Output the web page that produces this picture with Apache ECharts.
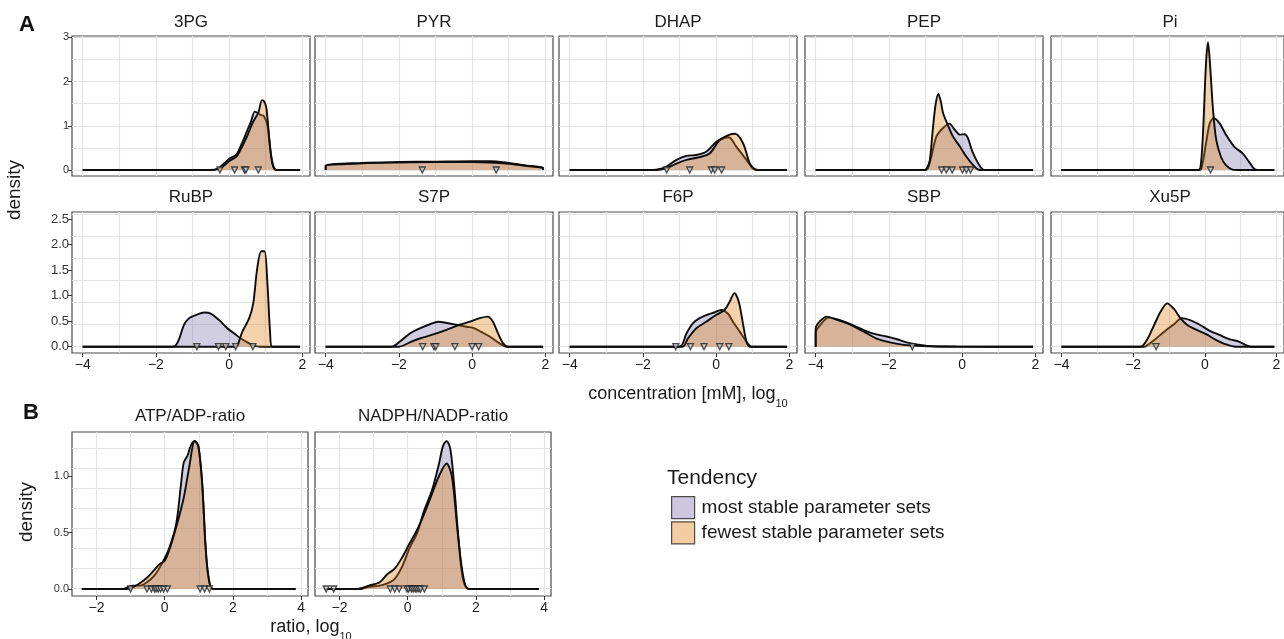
<!DOCTYPE html>
<html><head><meta charset="utf-8">
<script src="https://cdn.jsdelivr.net/npm/echarts@6/dist/echarts.min.js"></script>
<style>html,body{margin:0;padding:0;background:#fff}#c{width:1284px;height:639px}</style>
</head><body><div id="c"></div><script>
// ---------------- DATA ----------------
const seriesNames = ['most stable parameter sets', 'fewest stable parameter sets'];
const panelNamesA = ['3PG','PYR','DHAP','PEP','Pi','RuBP','S7P','F6P','SBP','Xu5P'];
const panelNamesB = ['ATP/ADP-ratio','NADPH/NADP-ratio'];
const ticksA_x = [-4,-2,0,2];
const ticksB_x = [-2,0,2,4];
const ticksTop_y = [0,1,2,3];
const ticksBottom_y = [0,0.5,1,1.5,2,2.5];
const ticksB_y = [0,0.5,1];

const most_3PG = [[-4,0],[-0.5,0],[-0.3,0.03],[-0.2,0.1],[0,0.25],[0.2,0.35],[0.35,0.6],[0.5,0.9],[0.6,1.1],[0.7,1.32],[0.76,1.3],[0.85,1.25],[0.95,1.22],[1.05,1.0],[1.12,0.5],[1.2,0.12],[1.3,0],[1.94,0]];
const fewest_3PG = [[-4,0],[-0.5,0],[-0.3,0.02],[-0.2,0.06],[0,0.2],[0.2,0.3],[0.35,0.52],[0.5,0.78],[0.65,1.08],[0.8,1.3],[0.9,1.58],[0.96,1.55],[1.02,1.4],[1.1,0.7],[1.18,0.15],[1.28,0],[1.94,0]];
const rug_3PG = [-0.25,0.15,0.42,0.46,0.8];

const most_PYR = [[-4,0],[-4,0.1],[-3,0.16],[-2,0.18],[-1,0.19],[0,0.2],[0.5,0.2],[1,0.16],[1.5,0.1],[1.94,0.05],[1.94,0]];
const fewest_PYR = [[-4,0],[-4,0.09],[-3,0.15],[-2,0.17],[-1,0.18],[0,0.18],[0.5,0.17],[1,0.14],[1.5,0.09],[1.94,0.04],[1.94,0]];
const rug_PYR = [-1.36,0.66];

const most_DHAP = [[-4,0],[-1.75,0],[-1.5,0.03],[-1.35,0.08],[-1.08,0.23],[-0.81,0.32],[-0.54,0.34],[-0.26,0.42],[0.01,0.64],[0.24,0.73],[0.35,0.74],[0.55,0.53],[0.83,0.23],[1.0,0.04],[1.15,0],[1.94,0]];
const fewest_DHAP = [[-4,0],[-1.6,0],[-1.35,0.04],[-1.1,0.14],[-0.81,0.23],[-0.45,0.29],[-0.17,0.38],[0.1,0.68],[0.37,0.8],[0.52,0.82],[0.74,0.6],[0.92,0.15],[1.05,0.02],[1.15,0],[1.94,0]];
const rug_DHAP = [-1.35,-0.72,-0.13,-0.04,0.15];

const most_PEP = [[-4,0],[-1.0,0],[-0.93,0.04],[-0.84,0.3],[-0.7,0.76],[-0.52,0.95],[-0.35,1.05],[-0.2,0.91],[-0.06,0.8],[0.07,0.81],[0.16,0.72],[0.28,0.42],[0.44,0.15],[0.57,0.01],[0.65,0],[1.94,0]];
const fewest_PEP = [[-4,0],[-1.02,0],[-0.94,0.08],[-0.88,0.23],[-0.79,1.0],[-0.72,1.5],[-0.65,1.72],[-0.58,1.55],[-0.52,1.29],[-0.38,1.0],[-0.25,0.76],[-0.06,0.53],[0.12,0.3],[0.3,0.11],[0.44,0.01],[0.55,0],[1.94,0]];
const rug_PEP = [-0.56,-0.43,-0.27,0.01,0.12,0.23];

const most_Pi = [[-4,0],[-0.15,0],[-0.09,0.04],[0.05,0.68],[0.14,1.06],[0.25,1.17],[0.41,1.06],[0.59,0.8],[0.82,0.53],[1.05,0.38],[1.23,0.19],[1.36,0.04],[1.45,0],[1.94,0]];
const fewest_Pi = [[-4,0],[-0.2,0],[-0.12,0.06],[-0.05,0.83],[0.03,2.35],[0.09,2.89],[0.15,2.35],[0.23,1.36],[0.32,0.68],[0.45,0.3],[0.59,0.11],[0.77,0.01],[0.9,0],[1.94,0]];
const rug_Pi = [0.16];

const most_RuBP = [[-4,0],[-1.55,0],[-1.45,0.03],[-1.36,0.16],[-1.23,0.43],[-1.09,0.56],[-0.91,0.62],[-0.68,0.67],[-0.5,0.65],[-0.27,0.52],[-0.05,0.36],[0.14,0.26],[0.32,0.16],[0.5,0.085],[0.68,0.02],[0.86,0],[1.94,0]];
const fewest_RuBP = [[-4,0],[0.15,0],[0.23,0.03],[0.36,0.29],[0.55,0.56],[0.66,0.85],[0.77,1.54],[0.88,1.87],[0.97,1.87],[1.05,1.21],[1.12,0.29],[1.18,0],[1.94,0]];
const rug_RuBP = [-0.88,-0.29,-0.09,0.18,0.65];

const most_S7P = [[-4,0],[-2.2,0],[-1.97,0.1],[-1.7,0.26],[-1.43,0.36],[-1.15,0.44],[-0.93,0.49],[-0.65,0.46],[-0.43,0.43],[-0.15,0.39],[0.03,0.37],[0.25,0.29],[0.48,0.2],[0.75,0.065],[0.94,0],[1.94,0]];
const fewest_S7P = [[-4,0],[-2.0,0],[-1.7,0.085],[-1.43,0.16],[-1.06,0.24],[-0.7,0.33],[-0.34,0.43],[-0.06,0.49],[0.21,0.56],[0.43,0.59],[0.57,0.49],[0.71,0.26],[0.85,0.065],[0.98,0],[1.94,0]];
const rug_S7P = [-1.35,-1.04,-0.99,-0.47,0.0,0.18];

const most_F6P = [[-4,0],[-1.0,0],[-0.81,0.26],[-0.63,0.46],[-0.45,0.56],[-0.23,0.63],[-0.05,0.67],[0.14,0.72],[0.32,0.65],[0.46,0.49],[0.65,0.29],[0.83,0.1],[0.96,0],[1.94,0]];
const fewest_F6P = [[-4,0],[-0.92,0],[-0.77,0.16],[-0.54,0.36],[-0.27,0.49],[0.0,0.62],[0.23,0.72],[0.37,0.88],[0.5,1.05],[0.62,0.88],[0.74,0.43],[0.83,0.1],[0.92,0],[1.94,0]];
const rug_F6P = [-1.1,-0.7,-0.33,0.1,0.35];

const most_SBP = [[-4,0],[-4,0.28],[-3.88,0.42],[-3.65,0.57],[-3.43,0.54],[-3.15,0.47],[-2.88,0.39],[-2.6,0.3],[-2.34,0.24],[-2.06,0.2],[-1.8,0.15],[-1.52,0.085],[-1.25,0.046],[-0.88,0.015],[-0.15,0.005],[0.75,0],[1.94,0]];
const fewest_SBP = [[-4,0],[-4,0.36],[-3.88,0.5],[-3.7,0.59],[-3.43,0.53],[-3.15,0.46],[-2.88,0.37],[-2.6,0.26],[-2.34,0.16],[-2.06,0.1],[-1.8,0.06],[-1.52,0.03],[-1.06,0.01],[-0.6,0],[1.94,0]];
const rug_SBP = [-1.36];

const most_Xu5P = [[-4,0],[-1.7,0],[-1.64,0.01],[-1.41,0.13],[-1.14,0.29],[-0.86,0.44],[-0.64,0.56],[-0.41,0.52],[-0.14,0.43],[0.14,0.31],[0.41,0.23],[0.68,0.15],[0.95,0.1],[1.18,0.02],[1.32,0],[1.94,0]];
const fewest_Xu5P = [[-4,0],[-1.8,0],[-1.73,0.02],[-1.59,0.16],[-1.41,0.43],[-1.23,0.69],[-1.05,0.85],[-0.86,0.74],[-0.68,0.56],[-0.5,0.43],[-0.23,0.33],[0.05,0.24],[0.32,0.13],[0.59,0.046],[0.86,0],[1.94,0]];
const rug_Xu5P = [-1.36];

const most_ATP = [[-2.43,0],[-1.2,0],[-1.16,0.005],[-0.95,0.03],[-0.73,0.03],[-0.52,0.06],[-0.3,0.12],[-0.09,0.22],[0.13,0.36],[0.34,0.58],[0.48,0.93],[0.56,1.12],[0.67,1.18],[0.77,1.27],[0.88,1.31],[0.99,1.26],[1.1,0.93],[1.2,0.37],[1.28,0.11],[1.42,0],[3.84,0]];
const fewest_ATP = [[-2.43,0],[-1.1,0],[-0.9,0.02],[-0.73,0.05],[-0.52,0.1],[-0.3,0.17],[-0.15,0.22],[0.0,0.25],[0.13,0.34],[0.34,0.55],[0.56,0.81],[0.72,1.08],[0.88,1.31],[0.99,1.26],[1.1,0.93],[1.2,0.37],[1.29,0.1],[1.42,0],[3.84,0]];
const rug_ATP = [-1.0,-0.52,-0.39,-0.3,-0.25,-0.19,-0.12,-0.03,0.08,1.04,1.17,1.31];

const most_NADPH = [[-2.43,0],[-1.4,0],[-1.14,0.02],[-0.82,0.03],[-0.6,0.05],[-0.38,0.09],[-0.16,0.2],[0.05,0.36],[0.27,0.49],[0.49,0.7],[0.71,0.87],[0.92,1.11],[1.03,1.26],[1.14,1.31],[1.25,1.24],[1.36,0.93],[1.52,0.34],[1.63,0.08],[1.79,0],[3.84,0]];
const fewest_NADPH = [[-2.43,0],[-1.5,0],[-1.14,0.03],[-0.82,0.06],[-0.6,0.13],[-0.38,0.18],[-0.16,0.28],[0.05,0.4],[0.27,0.52],[0.49,0.67],[0.71,0.84],[0.92,1.0],[1.14,1.11],[1.3,0.99],[1.47,0.49],[1.63,0.11],[1.79,0],[3.84,0]];
const rug_NADPH = [-2.39,-2.17,-0.51,-0.38,-0.25,-0.02,0.03,0.11,0.16,0.22,0.27,0.33,0.38,0.49];

// ---------------- LAYOUT / STYLE ----------------
const FONT = '"Liberation Sans", Arial, Helvetica, sans-serif';
const PURPLE = 'rgba(128,115,172,0.5)';
const ORANGE = 'rgba(224,130,20,0.5)';
const GRIDCOL = '#e4e4e4';
const minus = v => (v < 0 ? '\u2212' + Math.abs(v) : String(v));

const dataA = [
  [most_3PG, fewest_3PG, rug_3PG], [most_PYR, fewest_PYR, rug_PYR], [most_DHAP, fewest_DHAP, rug_DHAP],
  [most_PEP, fewest_PEP, rug_PEP], [most_Pi, fewest_Pi, rug_Pi], [most_RuBP, fewest_RuBP, rug_RuBP],
  [most_S7P, fewest_S7P, rug_S7P], [most_F6P, fewest_F6P, rug_F6P], [most_SBP, fewest_SBP, rug_SBP],
  [most_Xu5P, fewest_Xu5P, rug_Xu5P]
];
const dataB = [[most_ATP, fewest_ATP, rug_ATP], [most_NADPH, fewest_NADPH, rug_NADPH]];

const colLeftA = [72, 315, 559, 805, 1051];
const grids = [], xAxes = [], yAxes = [], series = [], graphics = [];

function text(x, y, str, size, opts) {
  graphics.push(Object.assign({
    type: 'text', x: x, y: y, silent: true,
    style: Object.assign({ text: str, fontSize: size, fontFamily: FONT, fill: '#1a1a1a', align: 'center', verticalAlign: 'middle' }, (opts && opts.style) || {})
  }, (opts && opts.el) || {}));
}

function addPanel(p) {
  const gi = grids.length;
  grids.push({ left: p.left, top: p.top, width: p.width, height: p.height, show: true,
    borderColor: '#4a4a4a', borderWidth: 1.2, backgroundColor: '#fff', containLabel: false });
  xAxes.push({ type: 'value', gridIndex: gi, position: 'top', min: p.xmin, max: p.xmax,
    axisLine: { show: false, onZero: false }, axisTick: { show: false, customValues: p.xgrid }, axisLabel: { show: false },
    splitLine: { show: true, lineStyle: { color: GRIDCOL, width: 1.2 } } });
  const xl = xAxes.length;
  xAxes.push({ type: 'value', gridIndex: gi, position: 'bottom', min: p.xmin, max: p.xmax,
    axisLine: { show: false, onZero: false },
    axisTick: { show: p.showX, customValues: p.xticks, length: 4, lineStyle: { color: '#333', width: 1 } },
    axisLabel: { show: p.showX, customValues: p.xticks, formatter: minus, fontSize: 14, color: '#1a1a1a', fontFamily: FONT, margin: 5 },
    splitLine: { show: false } });
  yAxes.push({ type: 'value', gridIndex: gi, position: 'right', min: p.gymin, max: p.gymax,
    axisLine: { show: false, onZero: false }, axisTick: { show: false, customValues: p.ygrid }, axisLabel: { show: false },
    splitLine: { show: true, lineStyle: { color: GRIDCOL, width: 1.2 } } });
  const yl = yAxes.length;
  yAxes.push({ type: 'value', gridIndex: gi, position: 'left', min: p.ymin, max: p.ymax,
    axisLine: { show: false, onZero: false },
    axisTick: { show: p.showY, customValues: p.yticks, length: 4, lineStyle: { color: '#333', width: 1 } },
    axisLabel: { show: p.showY, customValues: p.yticks, formatter: p.yfmt, fontSize: p.yFont, color: '#333', fontFamily: FONT, margin: 3 },
    splitLine: { show: false } });
  const d = p.data;
  series.push({ type: 'line', name: seriesNames[0], xAxisIndex: xl, yAxisIndex: yl, data: d[0],
    symbol: 'none', smooth: 0.3, silent: true, z: 2,
    lineStyle: { color: '#0d0d0d', width: 1.9 }, areaStyle: { color: PURPLE } });
  series.push({ type: 'line', name: seriesNames[1], xAxisIndex: xl, yAxisIndex: yl, data: d[1],
    symbol: 'none', smooth: 0.3, silent: true, z: 3,
    lineStyle: { color: '#0d0d0d', width: 1.9 }, areaStyle: { color: ORANGE } });
  series.push({ type: 'scatter', xAxisIndex: xl, yAxisIndex: yl, data: d[2].map(v => [v, 0]),
    symbol: 'triangle', symbolRotate: 180, symbolSize: 6, silent: true, z: 5,
    itemStyle: { color: 'rgba(200,200,200,0.95)', borderColor: '#222', borderWidth: 1.3 } });
  text(p.left + p.width / 2, p.top - p.titleGap, p.title, p.titleFont);
}

// Part A
const xA = { xmin: -4.292, xmax: 2.211, xgrid: [-4,-3,-2,-1,0,1,2], xticks: ticksA_x };
panelNamesA.forEach((name, i) => {
  const row = Math.floor(i / 5), col = i % 5;
  const top = row === 0 ? 36 : 212;
  const h = row === 0 ? 140 : 141;
  const base = Object.assign({}, xA, {
    left: colLeftA[col], top: top, width: 238, height: h, title: name, titleFont: 17,
    titleGap: row === 0 ? 14 : 15,
    data: dataA[i], showX: row === 1, showY: col === 0,
    ygrid: [0,0.5,1,1.5,2,2.5,3]
  });
  if (row === 0) {
    Object.assign(base, { ymin: -0.136, ymax: 3.032, gymin: -0.136, gymax: 3.032,
      yticks: ticksTop_y, yfmt: v => String(v), yFont: 11 });
  } else {
    Object.assign(base, { ymin: -0.124, ymax: 2.641, gymin: -0.143, gymax: 3.048,
      yticks: ticksBottom_y, yfmt: v => v.toFixed(1), yFont: 13 });
  }
  addPanel(base);
});

// Part B
[72, 315].forEach((left, i) => {
  addPanel({ left: left, top: 432, width: 236, height: 164, title: panelNamesB[i], titleFont: 17, titleGap: 16,
    xmin: -2.718, xmax: 4.203, xgrid: [-2,-1,0,1,2,3,4], xticks: ticksB_x,
    ymin: -0.062, ymax: 1.389, gymin: -0.2, gymax: 3.9, ygrid: [0,0.5,1,1.5,2,2.5,3,3.5],
    yticks: ticksB_y, yfmt: v => v.toFixed(1), yFont: 11,
    data: dataB[i], showX: true, showY: i === 0 });
});

// Dummy series used only for the legend swatches
series.unshift(
  { type: 'scatter', name: seriesNames[1], xAxisIndex: 1, yAxisIndex: 1, data: [], itemStyle: { color: ORANGE } },
  { type: 'scatter', name: seriesNames[0], xAxisIndex: 1, yAxisIndex: 1, data: [], itemStyle: { color: PURPLE } }
);

// Texts
text(27, 25, 'A', 22, { style: { fontWeight: 'bold', fill: '#111' } });
text(31, 413, 'B', 22, { style: { fontWeight: 'bold', fill: '#111' } });
text(15, 190, 'density', 19, { el: { rotation: Math.PI / 2 } });
text(27, 512, 'density', 19, { el: { rotation: Math.PI / 2 } });
graphics.push({ type: 'text', x: 688, y: 394, silent: true, style: {
  text: '{n|concentration [mM], log}{s|10}', align: 'center', verticalAlign: 'middle', fill: '#1a1a1a',
  rich: { n: { fontSize: 18, fontFamily: FONT, lineHeight: 30, fill: '#1a1a1a' },
          s: { fontSize: 11, fontFamily: FONT, lineHeight: 14, verticalAlign: 'bottom', fill: '#1a1a1a' } } } });
graphics.push({ type: 'text', x: 311, y: 627, silent: true, style: {
  text: '{n|ratio, log}{s|10}', align: 'center', verticalAlign: 'middle', fill: '#1a1a1a',
  rich: { n: { fontSize: 18, fontFamily: FONT, lineHeight: 30, fill: '#1a1a1a' },
          s: { fontSize: 11, fontFamily: FONT, lineHeight: 14, verticalAlign: 'bottom', fill: '#1a1a1a' } } } });
text(667, 478, 'Tendency', 21, { style: { align: 'left' } });

const chart = echarts.init(document.getElementById('c'), null, { renderer: 'canvas' });
chart.setOption({
  animation: false,
  backgroundColor: '#ffffff',
  grid: grids, xAxis: xAxes, yAxis: yAxes, series: series, graphic: graphics,
  legend: {
    orient: 'vertical', left: 666, top: 491, selectedMode: false, icon: 'rect',
    itemWidth: 23, itemHeight: 22, itemGap: 2,
    textStyle: { fontSize: 19, fontFamily: FONT, color: '#1a1a1a', padding: [0, 0, 0, 2] },
    data: [
      { name: seriesNames[0], itemStyle: { color: PURPLE, borderColor: '#222', borderWidth: 1.2 } },
      { name: seriesNames[1], itemStyle: { color: ORANGE, borderColor: '#222', borderWidth: 1.2 } }
    ]
  }
});
</script></body></html>
